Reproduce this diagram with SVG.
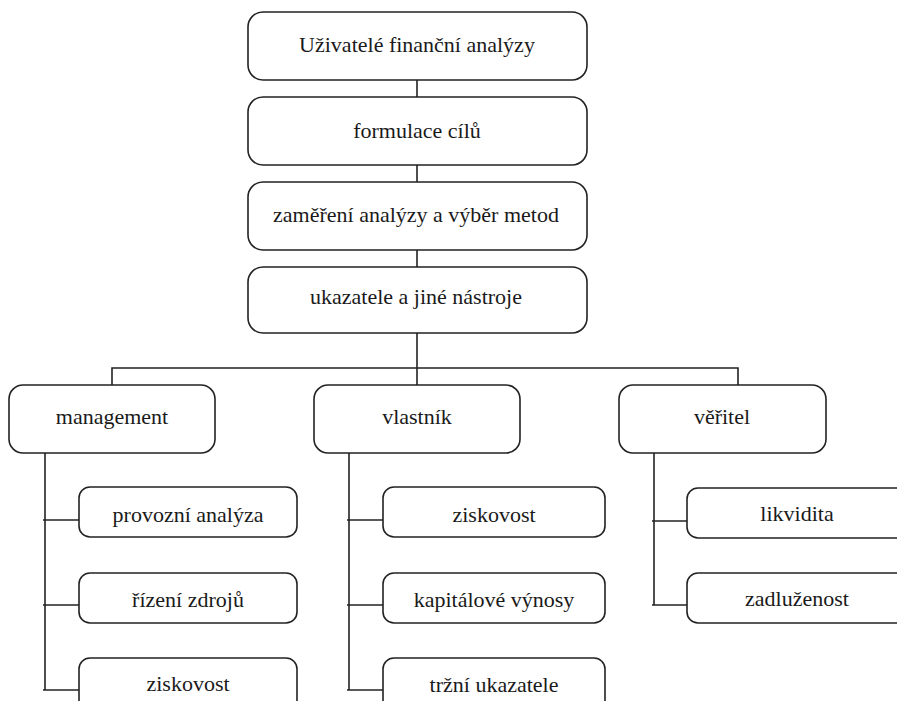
<svg xmlns="http://www.w3.org/2000/svg" width="897" height="701" viewBox="0 0 897 701">
  <style>
    .box { fill: #ffffff; stroke: #222222; stroke-width: 1.6; }
    .lbl { font-family: "Liberation Serif", "Times New Roman", serif; font-size: 22px; fill: #1a1a1a; text-anchor: middle; }
    .wire { fill: none; stroke: #222222; stroke-width: 1.6; }
  </style>
  <rect width="897" height="701" fill="#ffffff"/>

  <!-- connectors -->
  <g id="connectors" class="wire">
    <line x1="417" y1="80" x2="417" y2="97"/>
    <line x1="417" y1="165" x2="417" y2="182"/>
    <line x1="417" y1="250" x2="417" y2="267"/>
    <line x1="417" y1="333" x2="417" y2="385"/>
    <polyline points="112,385 112,368 738,368 738,385"/>
    <!-- management branch -->
    <line x1="45" y1="453" x2="45" y2="690"/>
    <line x1="43" y1="520" x2="79" y2="520"/>
    <line x1="43" y1="605" x2="79" y2="605"/>
    <line x1="43" y1="690" x2="79" y2="690"/>
    <!-- vlastník branch -->
    <line x1="349" y1="453" x2="349" y2="690"/>
    <line x1="347" y1="520" x2="383" y2="520"/>
    <line x1="347" y1="605" x2="383" y2="605"/>
    <line x1="347" y1="690" x2="383" y2="690"/>
    <!-- věřitel branch -->
    <line x1="654" y1="453" x2="654" y2="605"/>
    <line x1="652" y1="521" x2="687" y2="521"/>
    <line x1="652" y1="605" x2="687" y2="605"/>
  </g>

  <!-- upper chain -->
  <g id="uzivatele">
    <rect class="box" x="248" y="12" width="339" height="68" rx="15"/>
    <text class="lbl" x="417" y="52">Uživatelé finanční analýzy</text>
  </g>
  <g id="formulace">
    <rect class="box" x="248" y="97" width="339" height="68" rx="15"/>
    <text class="lbl" x="417" y="138">formulace cílů</text>
  </g>
  <g id="zamereni">
    <rect class="box" x="248" y="182" width="339" height="68" rx="15"/>
    <text class="lbl" x="416" y="222">zaměření analýzy a výběr metod</text>
  </g>
  <g id="ukazatele">
    <rect class="box" x="248" y="267" width="339" height="66" rx="15"/>
    <text class="lbl" x="416" y="304">ukazatele a jiné nástroje</text>
  </g>

  <!-- user groups -->
  <g id="management">
    <rect class="box" x="9" y="385" width="206" height="68" rx="14"/>
    <text class="lbl" x="112" y="424">management</text>
  </g>
  <g id="vlastnik">
    <rect class="box" x="314" y="385" width="206" height="68" rx="14"/>
    <text class="lbl" x="417" y="424">vlastník</text>
  </g>
  <g id="veritel">
    <rect class="box" x="619" y="385" width="207" height="68" rx="14"/>
    <text class="lbl" x="722" y="424">věřitel</text>
  </g>

  <!-- management items -->
  <g id="m-provozni">
    <rect class="box" x="79" y="487" width="218" height="50" rx="11"/>
    <text class="lbl" x="188" y="522">provozní analýza</text>
  </g>
  <g id="m-rizeni">
    <rect class="box" x="79" y="573" width="218" height="50" rx="11"/>
    <text class="lbl" x="188" y="607">řízení zdrojů</text>
  </g>
  <g id="m-ziskovost">
    <rect class="box" x="79" y="658" width="218" height="60" rx="11"/>
    <text class="lbl" x="188" y="691">ziskovost</text>
  </g>

  <!-- vlastník items -->
  <g id="v-ziskovost">
    <rect class="box" x="383" y="487" width="222" height="50" rx="11"/>
    <text class="lbl" x="494" y="522">ziskovost</text>
  </g>
  <g id="v-kapitalove">
    <rect class="box" x="383" y="573" width="222" height="50" rx="11"/>
    <text class="lbl" x="494" y="607">kapitálové výnosy</text>
  </g>
  <g id="v-trzni">
    <rect class="box" x="383" y="658" width="222" height="60" rx="11"/>
    <text class="lbl" x="494" y="692">tržní ukazatele</text>
  </g>

  <!-- věřitel items -->
  <g id="r-likvidita">
    <rect class="box" x="687" y="488" width="220" height="50" rx="11"/>
    <text class="lbl" x="797" y="521">likvidita</text>
  </g>
  <g id="r-zadluzenost">
    <rect class="box" x="687" y="573" width="220" height="50" rx="11"/>
    <text class="lbl" x="797" y="606">zadluženost</text>
  </g>
</svg>
